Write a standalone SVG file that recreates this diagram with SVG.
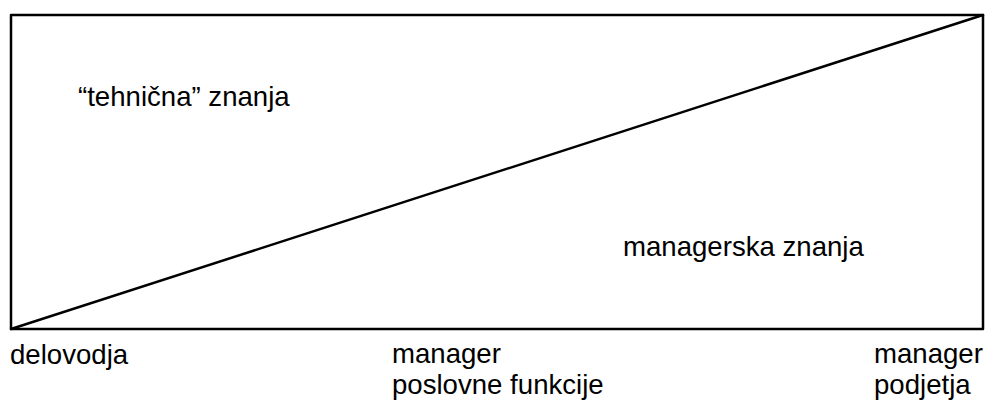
<svg xmlns="http://www.w3.org/2000/svg" width="986" height="401" viewBox="0 0 986 401">
<style>
text{font-family:"Liberation Sans",Arial,sans-serif;font-size:27.6px;fill:#000}
.ln{stroke:#000;stroke-width:2.5;fill:none;stroke-linejoin:round;stroke-linecap:round}
</style>
<rect width="986" height="401" fill="#fff"/>
<g id="frame"><rect class="ln" x="11" y="15" width="972" height="314"/></g>
<g id="connectors"><line class="ln" x1="11" y1="329" x2="983" y2="15"/></g>
<g id="tehnicna"><text x="78" y="106">“tehnična” znanja</text></g>
<g id="managerska"><text x="623" y="256">managerska znanja</text></g>
<g id="delovodja"><text x="10" y="364">delovodja</text></g>
<g id="manager-funkcije"><text x="392" y="363">manager</text><text x="392" y="394">poslovne funkcije</text></g>
<g id="manager-podjetja"><text x="874" y="363">manager</text><text x="874" y="394">podjetja</text></g>
</svg>
